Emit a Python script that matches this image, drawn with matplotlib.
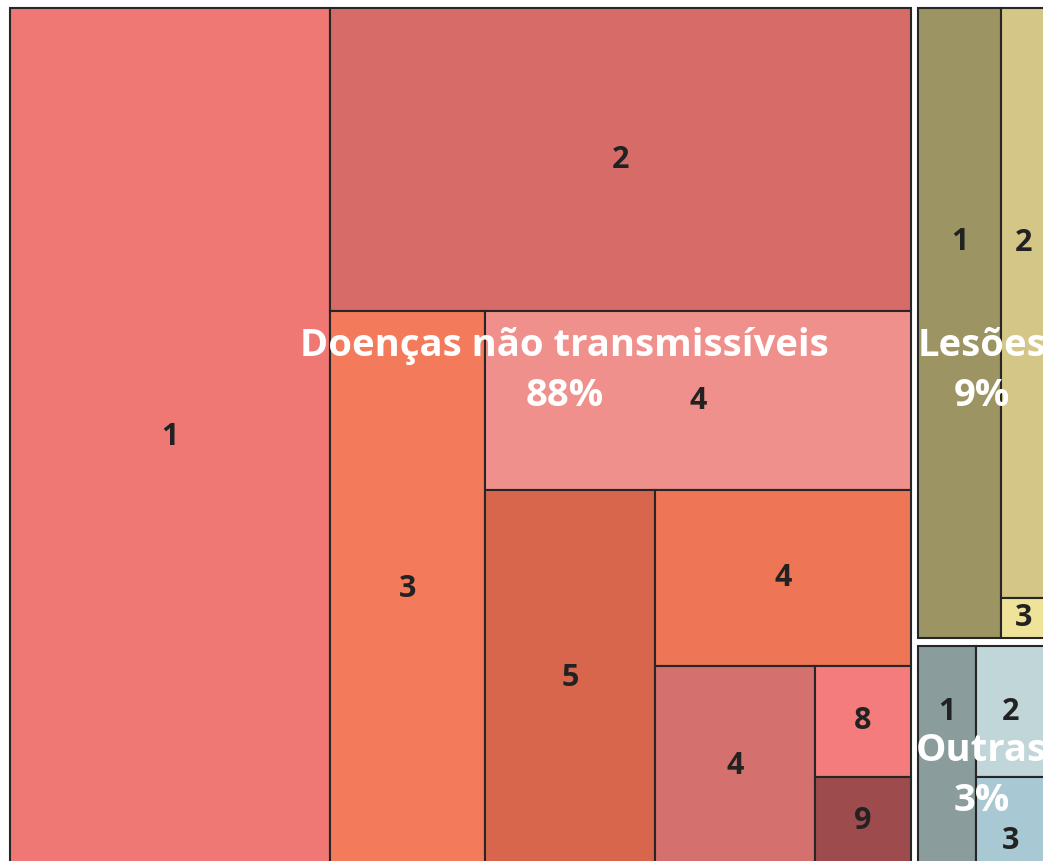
import matplotlib.pyplot as plt
from matplotlib.patches import Rectangle

plt.rcParams['font.family'] = ['Open Sans', 'DejaVu Sans']

# Data (leaf sizes, relative units)
groups = ["Doenças não transmissíveis", "Lesões", "Outras"]
ncd_labels = ["1", "2", "3", "4", "5", "4", "4", "8", "9"]
ncd_values = [27.5, 17.6, 8.6, 7.6, 6.4, 4.5, 3.2, 1.05, 0.85]
les_labels = ["1", "2", "3"]
les_values = [5.3, 2.6, 0.18]
out_labels = ["1", "2", "3"]
out_values = [1.28, 0.92, 0.62]

ncd_colors = ["#F07874", "#D66B67", "#F47A5C", "#F0908C", "#D8664C",
              "#EE7556", "#D4706E", "#F47C7C", "#9E4B4D"]
les_colors = ["#9C9462", "#D4C686", "#EFE39A"]
out_colors = ["#8A9C9C", "#C0D6D8", "#A8C8D4"]

# layout settings
FRAME = (10, 8, 1035, 858)   # x0, y0, w, h of the whole map
GAP = 7.5
EDGE = "#262626"

# label nudges (dx, dy) so labels sit like the original
group_nudge = {0: (104, -66), 1: (0, 48), 2: (0, 20)}
leaf_nudge = {(1, 0): (0, -81), (1, 1): (0, -60), (2, 0): (0, -44), (2, 2): (0, 19)}


def slice_layout(values, x, y, w, h, gap=0.0):
    # alternate vertical / horizontal strips, starting with a vertical one
    rects = []
    rest = float(sum(values))
    vertical = True
    for i, v in enumerate(values):
        last = i == len(values) - 1
        if last:
            rects.append((x, y, w, h))
            break
        if vertical:
            sw = v / rest * (w - gap)
            rects.append((x, y, sw, h))
            x += sw + gap
            w -= sw + gap
        else:
            sh = v / rest * (h - gap)
            rects.append((x, y, w, sh))
            y += sh + gap
            h -= sh + gap
        rest -= v
        vertical = not vertical
    return rects


fig = plt.figure(figsize=(10.43, 8.61), dpi=100)
ax = fig.add_axes([0, 0, 1, 1])
ax.set_xlim(0, 1043)
ax.set_ylim(861, 0)
ax.axis("off")

leaves = [(ncd_labels, ncd_values, ncd_colors),
          (les_labels, les_values, les_colors),
          (out_labels, out_values, out_colors)]
totals = [sum(v) for _, v, _ in leaves]
grand = sum(totals)

group_rects = slice_layout(totals, *FRAME, gap=GAP)

for gi, (gx, gy, gw, gh) in enumerate(group_rects):
    labels, values, colors = leaves[gi]
    for li, (x, y, w, h) in enumerate(slice_layout(values, gx, gy, gw, gh)):
        ax.add_patch(Rectangle((x, y), w, h, facecolor=colors[li],
                               edgecolor=EDGE, linewidth=1.5))
        dx, dy = leaf_nudge.get((gi, li), (0, 0))
        ax.text(x + w / 2 + dx, y + h / 2 + dy, labels[li], ha="center", va="center",
                fontsize=22, fontweight="bold", color="#222222")

for gi, (gx, gy, gw, gh) in enumerate(group_rects):
    dx, dy = group_nudge[gi]
    pct = round(totals[gi] / grand * 100)
    ax.text(gx + gw / 2 + dx, gy + gh / 2 + dy, f"{groups[gi]}\n{pct}%",
            ha="center", va="center", fontsize=27.5, fontweight="bold",
            color="white", linespacing=1.4)

plt.savefig("out.png", dpi=100)
plt.close()
